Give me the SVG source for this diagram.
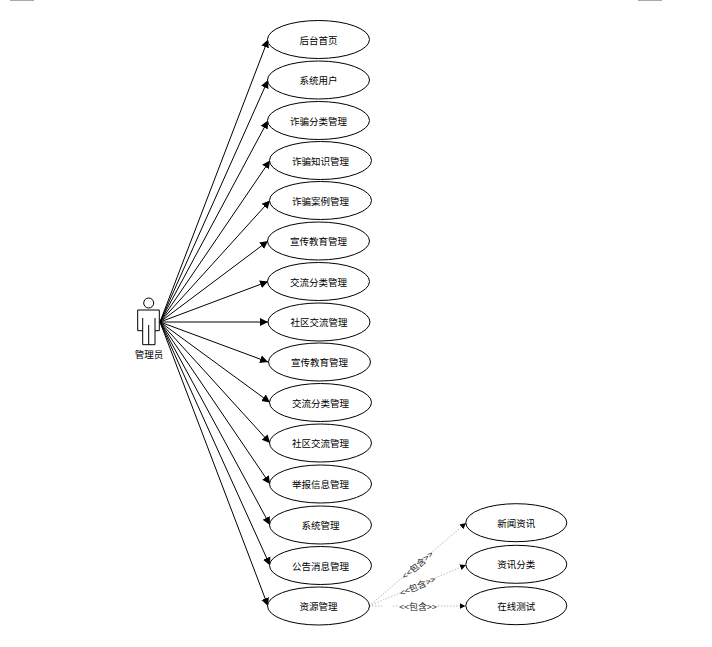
<svg xmlns="http://www.w3.org/2000/svg" width="712" height="647" viewBox="0 0 712 647">
<style>
text{font-family:"Noto Sans CJK SC","Liberation Sans",sans-serif;font-size:9.500px;fill:#000;text-anchor:middle;dominant-baseline:central}
ellipse{fill:#fff;stroke:#000;stroke-width:1}
.c{fill:none;stroke:#000;stroke-width:1;marker-end:url(#a)}
.d{fill:none;stroke:#aaa;stroke-width:.8;stroke-dasharray:1.500 1.500;marker-end:url(#e)}
.l{font-size:9px;fill:#222}
.bg{fill:#fff;stroke:none}
.b{fill:#aaa}
.p{fill:#fff;stroke:#000;stroke-width:1}
</style>
<defs>
<marker id="a" markerUnits="userSpaceOnUse" markerWidth="10" markerHeight="10" refX="8" refY="5" orient="auto"><path d="M0 1L8 5L0 9Z" fill="#000"/></marker>
<marker id="e" markerUnits="userSpaceOnUse" markerWidth="8" markerHeight="8" refX="6" refY="4" orient="auto"><path d="M0 1L6 4L0 7Z" fill="#000"/></marker>
</defs>
<rect class="b" x="10" y="0" width="24" height="1"/>
<rect class="b" x="638" y="0" width="24" height="1"/>
<g id="connectors">
<path class="c" d="M160 322L268 39.500"/>
<path class="c" d="M160 322L268 80"/>
<path class="c" d="M160 322L268 120.500"/>
<path class="c" d="M160 322L270 160.500"/>
<path class="c" d="M160 322L270 200.500"/>
<path class="c" d="M160 322L268 241"/>
<path class="c" d="M160 322L268 281.500"/>
<path class="c" d="M160 322L268 322"/>
<path class="c" d="M160 322L268 362"/>
<path class="c" d="M160 322L270 402.500"/>
<path class="c" d="M160 322L270 443"/>
<path class="c" d="M160 322L270 484"/>
<path class="c" d="M160 322L270 525"/>
<path class="c" d="M160 322L270 565.500"/>
<path class="c" d="M160 322L268 606"/>
<path class="d" d="M369 606L466 523"/>
<path class="d" d="M369 606L466 565"/>
<path class="d" d="M369 606L465.500 606"/>
<g transform="translate(417.500 565) rotate(-40.500)"><rect class="bg" x="-18" y="-6" width="36" height="12"/><text class="l">&lt;&lt;包含&gt;&gt;</text></g>
<g transform="translate(417.500 586) rotate(-23)"><rect class="bg" x="-18" y="-6" width="36" height="12"/><text class="l">&lt;&lt;包含&gt;&gt;</text></g>
<g><rect class="bg" x="382" y="600" width="10" height="12"/><rect class="bg" x="399" y="600" width="38" height="12"/><text class="l" x="418" y="606">&lt;&lt;包含&gt;&gt;</text></g>
</g>
<g id="actor">
<circle class="p" cx="148.700" cy="303" r="5"/>
<path class="p" d="M137.700 310H159.300V330.700H155V344.700H142.700V330.700H137.700Z"/>
<path class="p" d="M148.700 325V344.700M142.700 318V330.700M155 318V330.700"/>
<text x="149" y="354">管理员</text>
</g>
<g id="n1"><ellipse cx="318.500" cy="39.500" rx="51" ry="19"/><text x="318.500" y="39.500">后台首页</text></g>
<g id="n2"><ellipse cx="318.500" cy="80" rx="51" ry="19"/><text x="318.500" y="80">系统用户</text></g>
<g id="n3"><ellipse cx="318.500" cy="120.500" rx="51" ry="19"/><text x="318.500" y="120.500">诈骗分类管理</text></g>
<g id="n4"><ellipse cx="320.500" cy="160.500" rx="51" ry="19"/><text x="320.500" y="160.500">诈骗知识管理</text></g>
<g id="n5"><ellipse cx="320.500" cy="200.500" rx="51" ry="19"/><text x="320.500" y="200.500">诈骗案例管理</text></g>
<g id="n6"><ellipse cx="318.500" cy="241" rx="51" ry="19"/><text x="318.500" y="241">宣传教育管理</text></g>
<g id="n7"><ellipse cx="318.500" cy="281.500" rx="51" ry="19"/><text x="318.500" y="281.500">交流分类管理</text></g>
<g id="n8"><ellipse cx="319" cy="322" rx="51" ry="19"/><text x="319" y="322">社区交流管理</text></g>
<g id="n9"><ellipse cx="319.500" cy="362" rx="51" ry="19"/><text x="319.500" y="362">宣传教育管理</text></g>
<g id="n10"><ellipse cx="320.500" cy="402.500" rx="51" ry="19"/><text x="320.500" y="402.500">交流分类管理</text></g>
<g id="n11"><ellipse cx="320.500" cy="443" rx="51" ry="19"/><text x="320.500" y="443">社区交流管理</text></g>
<g id="n12"><ellipse cx="320.500" cy="484" rx="51" ry="19"/><text x="320.500" y="484">举报信息管理</text></g>
<g id="n13"><ellipse cx="320.500" cy="525" rx="51" ry="19"/><text x="320.500" y="525">系统管理</text></g>
<g id="n14"><ellipse cx="320.500" cy="565.500" rx="51" ry="19"/><text x="320.500" y="565.500">公告消息管理</text></g>
<g id="n15"><ellipse cx="318.500" cy="606" rx="51" ry="19"/><text x="318.500" y="606">资源管理</text></g>
<g id="n16"><ellipse cx="516.300" cy="522.700" rx="50.500" ry="19"/><text x="516.300" y="522.700">新闻资讯</text></g>
<g id="n17"><ellipse cx="516.300" cy="564.300" rx="50.500" ry="19"/><text x="516.300" y="564.300">资讯分类</text></g>
<g id="n18"><ellipse cx="516.300" cy="605.700" rx="50.500" ry="19"/><text x="516.300" y="605.700">在线测试</text></g>
</svg>
